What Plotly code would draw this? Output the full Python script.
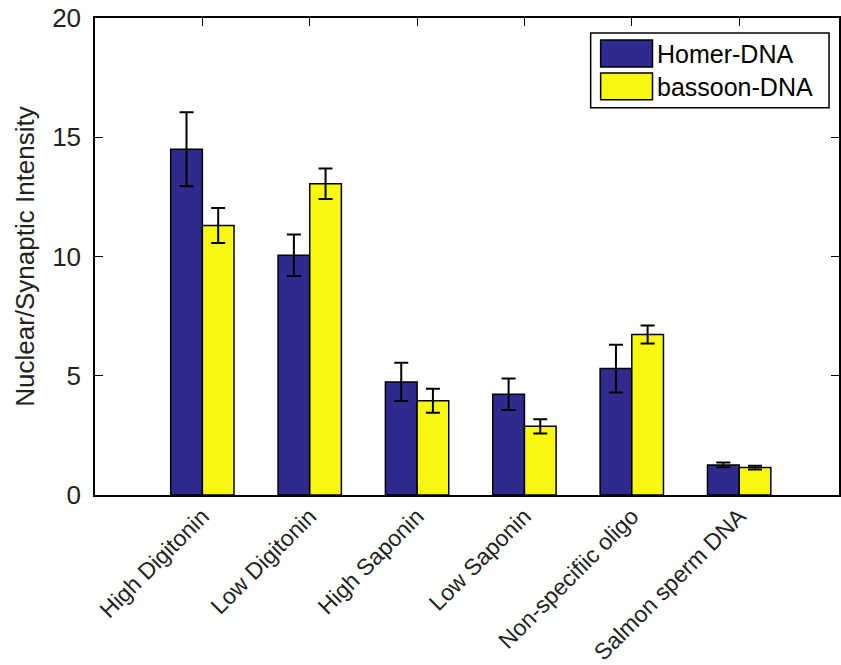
import plotly.graph_objects as go

categories = ["High Digitonin", "Low Digitonin", "High Saponin", "Low Saponin",
              "Non-specifiic oligo", "Salmon sperm DNA"]
homer_vals = [14.5, 10.05, 4.74, 4.22, 5.3, 1.26]
homer_err = [1.55, 0.87, 0.80, 0.66, 1.0, 0.10]
bassoon_vals = [11.3, 13.05, 3.95, 2.88, 6.73, 1.15]
bassoon_err = [0.73, 0.64, 0.50, 0.30, 0.38, 0.08]
series_names = ["Homer-DNA", "bassoon-DNA"]
y_ticks = [0, 5, 10, 15, 20]

HOMER_C = "#2f2a8e"
BASSOON_C = "#f7f712"
FONT = "Liberation Sans, Arial, sans-serif"

W, H = 841, 665
ML, MR, MT, MB = 95, 0, 18, 169
PW, PH = W - ML - MR, H - MT - MB

def px(x):
    return (x - ML) / PW

def py(y):
    return (H - MB - y) / PH

fig = go.Figure()
for name, vals, errs, col in [(series_names[0], homer_vals, homer_err, HOMER_C),
                              (series_names[1], bassoon_vals, bassoon_err, BASSOON_C)]:
    fig.add_trace(go.Bar(
        x=categories, y=vals, name=name,
        marker=dict(color=col, line=dict(color="black", width=1.5)),
        error_y=dict(type="data", array=errs, color="black", thickness=2, width=7),
        showlegend=False, hoverinfo="skip",
    ))

# custom legend (large swatches like the original)
shapes = [dict(type="rect", xref="paper", yref="paper",
               x0=px(592), x1=px(831), y0=py(108), y1=py(33),
               line=dict(color="black", width=1.5), fillcolor="white", layer="above")]
annotations = []
for i, (name, col) in enumerate([(series_names[0], HOMER_C), (series_names[1], BASSOON_C)]):
    top = 40 + i * 33
    shapes.append(dict(type="rect", xref="paper", yref="paper",
                       x0=px(602), x1=px(654), y0=py(top + 27), y1=py(top),
                       line=dict(color="black", width=1.5), fillcolor=col, layer="above"))
    annotations.append(dict(xref="paper", yref="paper", x=px(657), y=py(top + 14),
                            text=name, showarrow=False, xanchor="left", yanchor="middle",
                            font=dict(family=FONT, size=25, color="black")))

fig.update_layout(
    width=W, height=H,
    margin=dict(l=ML, r=MR, t=MT, b=MB, pad=0),
    paper_bgcolor="white", plot_bgcolor="white",
    barmode="group", bargap=0.41, bargroupgap=0,
    font=dict(family=FONT, color="#222222"),
    shapes=shapes, annotations=annotations,
    showlegend=False,
)
fig.update_xaxes(
    type="category", range=[-1, 5.93],
    showline=True, linecolor="black", linewidth=1.5, mirror="ticks",
    ticks="inside", ticklen=8, tickcolor="black",
    tickangle=-45, tickfont=dict(family=FONT, size=23, color="#222222"),
    ticklabeloverflow="allow", ticklabelstandoff=-3,
    showgrid=False, zeroline=False,
)
fig.update_yaxes(
    range=[0, 20], tickvals=y_ticks,
    showline=True, linecolor="black", linewidth=1.5, mirror="ticks",
    ticks="inside", ticklen=8, tickcolor="black",
    ticklabelstandoff=7, ticklabeloverflow="allow",
    tickfont=dict(family=FONT, size=26, color="#222222"),
    title=dict(text="Nuclear/Synaptic Intensity", font=dict(family=FONT, size=26, color="#222222"),
               standoff=10),
    showgrid=False, zeroline=False,
)

fig.write_html(
    "out.html",
    config={"displayModeBar": False},
    post_script="document.body.style.margin='0';document.body.style.overflow='hidden';",
)
